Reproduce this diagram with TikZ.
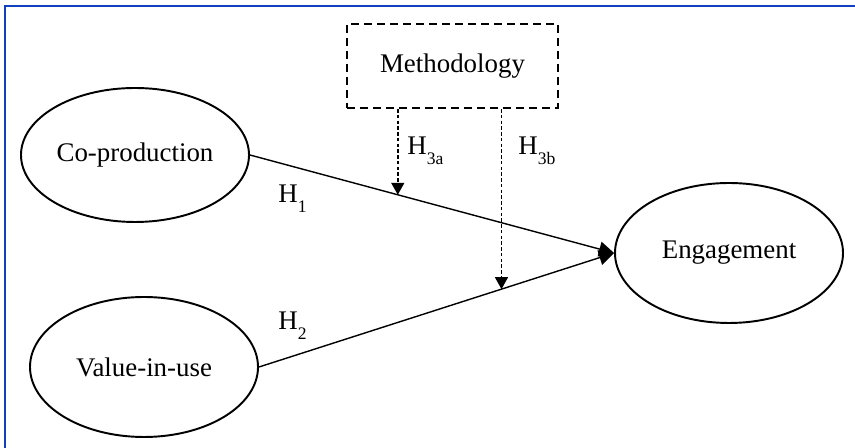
\documentclass[tikz,border=0pt]{standalone}
\usepackage{fontspec}
\setmainfont{Liberation Serif}
\usetikzlibrary{shapes.geometric,arrows.meta}
\newcommand{\hsub}[1]{\raisebox{-5.5pt}{\fontsize{10}{11}\selectfont #1}}

\begin{document}
\begin{tikzpicture}[
  construct/.style={ellipse,draw,line width=1.1pt,inner sep=0pt,
    minimum width=4.56cm,minimum height=2.8cm,font=\fontsize{15.3}{18}\selectfont},
  moderator/.style={rectangle,draw,line width=1.3pt,dash pattern=on 0.16cm off 0.1cm,
    minimum width=4.22cm,minimum height=1.68cm,font=\fontsize{15.3}{18}\selectfont},
  path/.style={line width=0.8pt,-{Triangle[length=0.3cm,width=0.3cm]}},
  modpath/.style={line width=0.9pt,dash pattern=on 0.07cm off 0.045cm,
    -{Triangle[length=0.24cm,width=0.26cm]}},
  hyp/.style={anchor=base west,inner sep=0pt,font=\fontsize{15.3}{18}\selectfont}]
\useasboundingbox (0,0) rectangle (17.1,8.96);
\draw[color={rgb,255:red,16;green,64;blue,192},line width=1.4pt] (0.1,0) -- (0.1,8.84) -- (17.1,8.84);

\node[construct,minimum height=2.68cm] (C) at (2.70,5.86) {Co-production};
\node[construct] (V) at (2.88,1.62) {Value-in-use};
\node[construct] (E) at (14.58,3.90) {Engagement};
\node[moderator] (M) at (9.05,7.64) {Methodology};

\draw[path] (C.east) -- (E.west) coordinate[pos=0.406] (ha);
\draw[path] (V.east) -- (E.west) coordinate[pos=0.683] (hb);
\draw[modpath] (M.south -| ha) -- (ha);
\draw[modpath] (M.south -| hb) -- (hb);

\node[hyp] (h1) at (5.56,4.90) {H\hsub{1}};
\node[hyp] (h2) at (5.56,2.36) {H\hsub{2}};
\node[hyp] (h3a) at (8.14,5.86) {H\hsub{3a}};
\node[hyp] (h3b) at (10.36,5.86) {H\hsub{3b}};
\end{tikzpicture}
\end{document}
